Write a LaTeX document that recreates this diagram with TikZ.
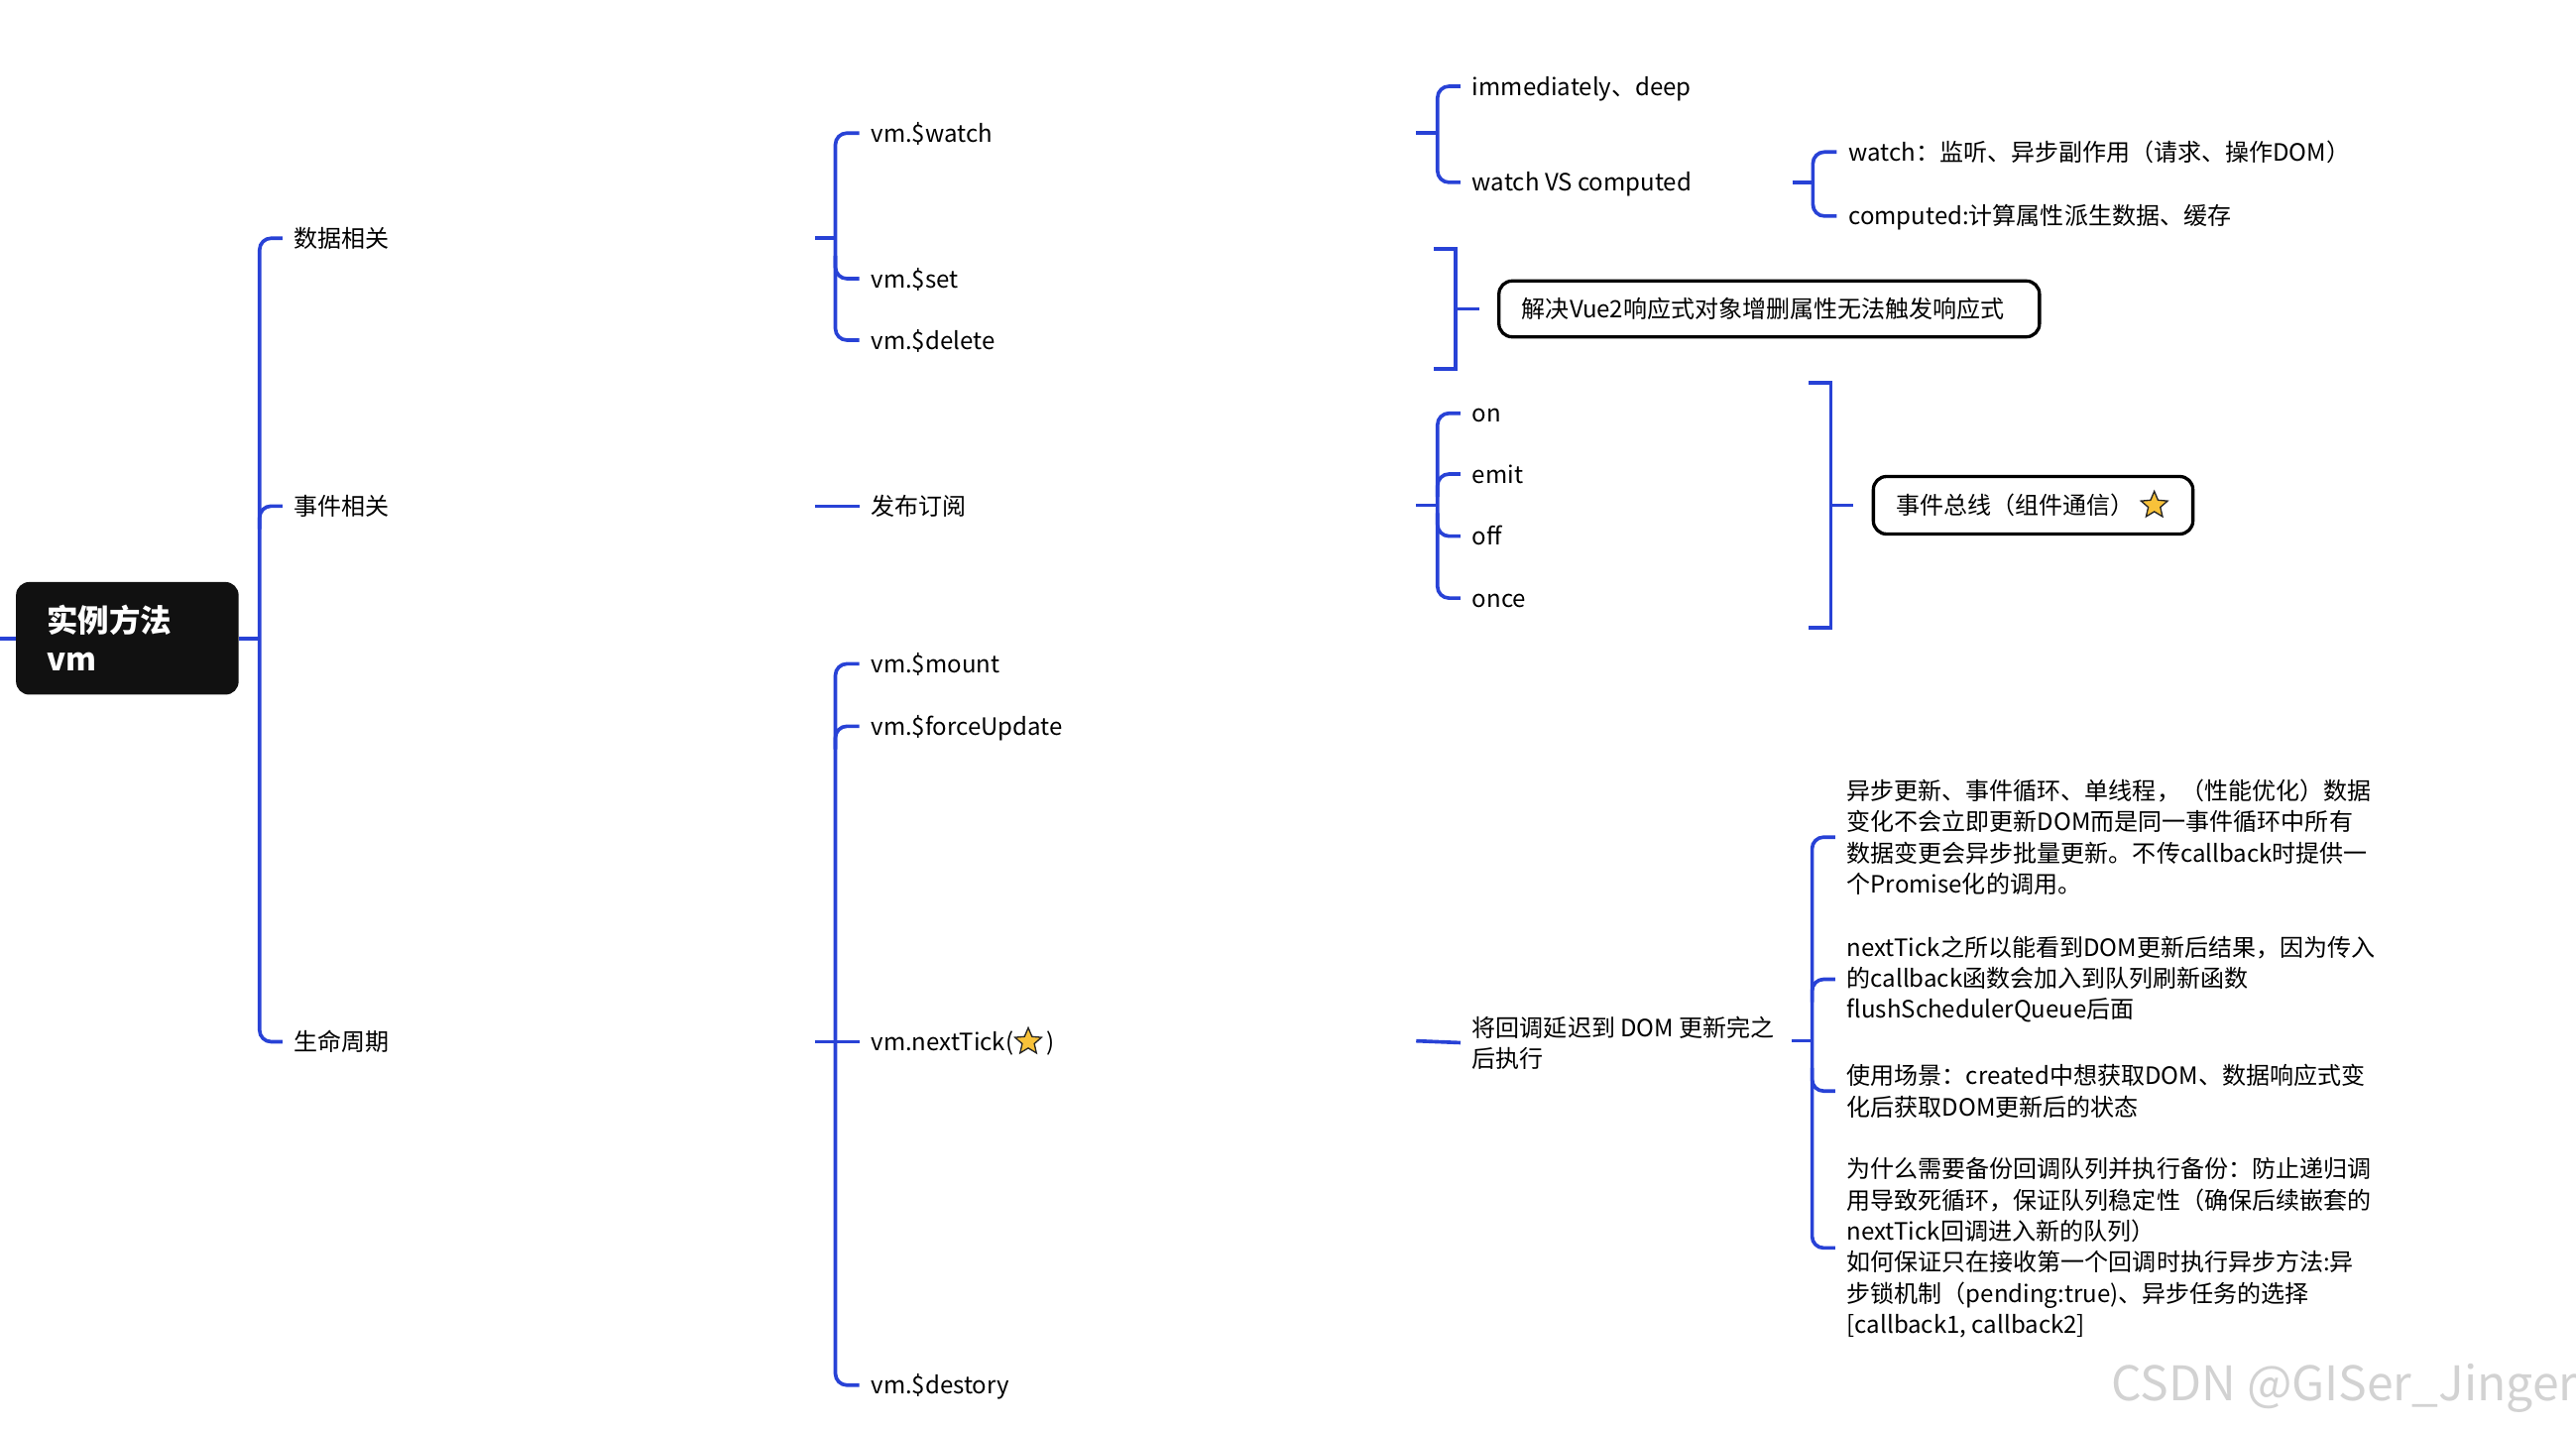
\documentclass[tikz,border=0pt]{standalone}
\usepackage{fontspec}
\setmainfont{Noto Sans CJK SC}
\usetikzlibrary{shapes.geometric,calc}
\definecolor{brc}{RGB}{40,66,214}
\definecolor{starc}{RGB}{248,194,58}
\definecolor{rootc}{RGB}{17,17,17}
\begin{document}
\begin{tikzpicture}[x=1pt,y=-1pt,
  br/.style={draw=brc,line width=2.2pt,rounded corners=7pt},
  sq/.style={draw=brc,line width=2.2pt},
  txt/.style={anchor=west,inner sep=0pt,font=\fontsize{14.5}{18.9}\selectfont,text height=12.7pt,text depth=1.8pt},
  txtm/.style={anchor=west,inner sep=0pt,font=\fontsize{14.5}{18.9}\selectfont,align=left},
  sumbox/.style={anchor=west,draw=black,line width=2pt,rounded corners=8pt,inner xsep=14pt,inner ysep=0pt,minimum height=34pt,font=\fontsize{14.5}{18.9}\selectfont,text height=12.7pt,text depth=1.8pt},
  starnode/.style={star,star points=5,star point ratio=2.2,minimum size=17pt,inner sep=0pt,fill=starc,draw=black!85,line width=0.8pt},
  rootbox/.style={fill=rootc,rounded corners=8pt,minimum width=135.5pt,minimum height=68.5pt,text width=98pt,inner xsep=18.75pt,align=left,text=white,font=\fontsize{19}{23.6}\selectfont\bfseries}
]
\useasboundingbox (0,0) rectangle (1568,870);

% root
\node[rootbox] (root) at (77.5,388.5) {实例方法\\vm};
\coordinate (lft) at (0,388.5);
\coordinate (j0) at (158,388.5);
\draw[sq] (lft) -- (root.west);
\draw[sq] (root.east) -- (j0);

% level 1
\node[txt] (d) at (179,145) {数据相关};
\node[txt] (e) at (179,308) {事件相关};
\node[txt] (l) at (179,634) {生命周期};
\draw[br] ([xshift=-7pt]d.west) -| (j0) |- ([xshift=-7pt]l.west);
\draw[br] ([xshift=-7pt]e.west) -| ($(e.west -| j0)+(0,14)$);

% level 2 : data
\coordinate (p1) at (496,145);
\coordinate (j1) at (508.5,145);
\node[txt] (w) at (530,81) {vm.\$watch};
\node[txt] (set) at (530,169.6) {vm.\$set};
\node[txt] (del) at (530,207) {vm.\$delete};
\draw[sq] (p1) -- (j1);
\draw[br] ([xshift=-7pt]w.west) -| (j1) |- ([xshift=-7pt]del.west);
\draw[br] ($(set.west -| j1)+(0,-14)$) |- ([xshift=-7pt]set.west);

% level 2 : events
\coordinate (p2) at (496,308);
\node[txt] (pub) at (530,308) {发布订阅};
\draw[sq] (p2) -- ([xshift=-7pt]pub.west);

% level 2 : lifecycle
\coordinate (p3) at (496,634);
\coordinate (j3) at (508.5,634);
\node[txt] (mount) at (530,404) {vm.\$mount};
\node[txt] (force) at (530,442) {vm.\$forceUpdate};
\node[txt] (tick) at (530,634) {vm.nextTick(};
\node[starnode,anchor=west] (st2) at ([xshift=3pt]tick.east) {};
\node[txt] (tickc) at ([xshift=5pt]st2.east) {)};
\node[txt] (des) at (530,843) {vm.\$destory};
\draw[sq] (p3) -- ([xshift=-7pt]tick.west);
\draw[br] ([xshift=-7pt]mount.west) -| (j3) |- ([xshift=-7pt]des.west);
\draw[br] ([xshift=-7pt]force.west) -| ($(force.west -| j3)+(0,14)$);

% level 3 : watch
\coordinate (p4) at (862,81);
\coordinate (j4) at (875,81);
\node[txt] (imm) at (896,52.5) {immediately、deep};
\node[txt] (wvc) at (896,111) {watch VS computed};
\draw[sq] (p4) -- (j4);
\draw[br] ([xshift=-7pt]imm.west) -| (j4) |- ([xshift=-7pt]wvc.west);

% level 4 : watch vs computed
\coordinate (p5) at (1091,111);
\coordinate (j5) at (1103.5,111);
\node[txt] (wt) at (1125,92.5) {watch：监听、异步副作用（请求、操作DOM）};
\node[txt] (ct) at (1125,131.5) {computed:计算属性派生数据、缓存};
\draw[sq] (p5) -- (j5);
\draw[br] ([xshift=-7pt]wt.west) -| (j5) |- ([xshift=-7pt]ct.west);

% summary : set / delete
\coordinate (sb1) at (873,151.5);
\coordinate (sb2) at (886,151.5);
\coordinate (sb3) at (886,224.5);
\coordinate (sb4) at (873,224.5);
\coordinate (sbm) at (886,188);
\node[sumbox,text width=301pt,align=left] (vb) at (911.4,188) {解决Vue2响应式对象增删属性无法触发响应式};
\draw[sq] (sb1) -- (sb2) -- (sb3) -- (sb4);
\draw[sq] (sbm) -- ([xshift=-11pt]vb.west);

% level 3 : events
\coordinate (p8) at (862,307.5);
\coordinate (j8) at (875,307.5);
\node[txt] (on) at (896,251.5) {on};
\node[txt] (emit) at (896,288.5) {emit};
\node[txt] (off) at (896,326.3) {off};
\node[txt] (once) at (896,364) {once};
\draw[sq] (p8) -- (j8);
\draw[br] ([xshift=-7pt]on.west) -| (j8) |- ([xshift=-7pt]once.west);
\draw[br] ([xshift=-7pt]emit.west) -| ($(emit.west -| j8)+(0,14)$);
\draw[br] ($(off.west -| j8)+(0,-14)$) |- ([xshift=-7pt]off.west);

% summary : event bus
\coordinate (eb1) at (1101,233);
\coordinate (eb2) at (1114.5,233);
\coordinate (eb3) at (1114.5,382);
\coordinate (eb4) at (1101,382);
\coordinate (ebm) at (1114.5,307.5);
\node[sumbox,minimum height=35pt,text width=166.5pt,align=left] (eb) at (1139.3,307.5) {事件总线（组件通信）};
\node[starnode] (st1) at ([xshift=-24.5pt]eb.east) {};
\draw[sq] (eb1) -- (eb2) -- (eb3) -- (eb4);
\draw[sq] (ebm) -- ([xshift=-11pt]eb.west);

% level 3 : nextTick
\coordinate (p6) at (862,633.5);
\node[txtm] (cb) at (896,634.6) {将回调延迟到 DOM 更新完之\\后执行};
\draw[sq] (p6) -- ([xshift=-7pt]cb.west);

% level 4 : nextTick details
\coordinate (p7) at (1090.5,633.5);
\coordinate (j7) at (1103,633.5);
\node[txtm] (n1) at (1124,509.5) {异步更新、事件循环、单线程，（性能优化）数据\\变化不会立即更新DOM而是同一事件循环中所有\\数据变更会异步批量更新。不传callback时提供一\\个Promise化的调用。};
\node[txtm] (n2) at (1124,596) {nextTick之所以能看到DOM更新后结果，因为传入\\的callback函数会加入到队列刷新函数\\flushSchedulerQueue后面};
\node[txtm] (n3) at (1124,664) {使用场景：created中想获取DOM、数据响应式变\\化后获取DOM更新后的状态};
\node[txtm] (n4) at (1124,759.5) {为什么需要备份回调队列并执行备份：防止递归调\\用导致死循环，保证队列稳定性（确保后续嵌套的\\nextTick回调进入新的队列）\\如何保证只在接收第一个回调时执行异步方法:异\\步锁机制（pending:true)、异步任务的选择\\{}[callback1, callback2]};
\draw[sq] (p7) -- (j7);
\draw[br] ([xshift=-7pt]n1.west) -| (j7) |- ([xshift=-7pt]n4.west);
\draw[br] ([xshift=-7pt]n2.west) -| ($(n2.west -| j7)+(0,14)$);
\draw[br] ($(n3.west -| j7)+(0,-14)$) |- ([xshift=-7pt]n3.west);

% watermark
\node[anchor=west,inner sep=0pt,text=gray!35,font=\fontsize{29}{29}\selectfont] (wm) at (1285,845) {CSDN @GISer\_Jinger};
\end{tikzpicture}
\end{document}
